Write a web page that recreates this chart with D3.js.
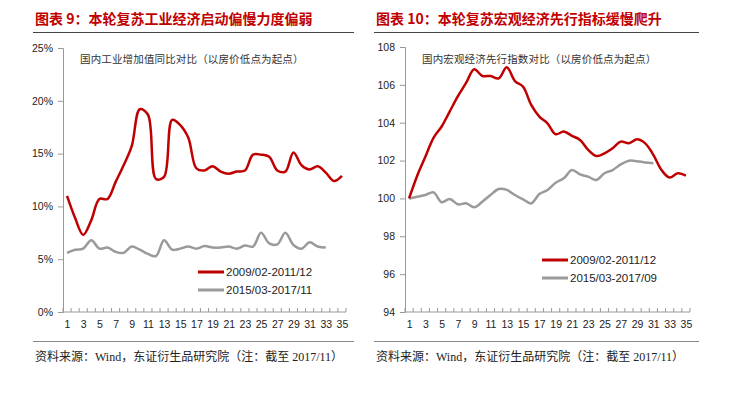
<!DOCTYPE html>
<html><head><meta charset="utf-8">
<script src="https://cdn.jsdelivr.net/npm/d3@7/dist/d3.min.js"></script>
<style>
html,body{margin:0;padding:0;background:#fff;}
svg{display:block;}
</style></head>
<body>
<svg id="c" width="733" height="397"></svg>
<script>
const categories = d3.range(1, 36);
const xTickLabels = d3.range(1, 36, 2);

// Left chart: industrial value added YoY (%)
const leftTitle = "图表 9：本轮复苏工业经济启动偏慢力度偏弱";
const leftNote = "国内工业增加值同比对比（以房价低点为起点）";
const leftSeriesNames = ["2009/02-2011/12", "2015/03-2017/11"];
const leftRed = [11.0, 8.9, 7.3, 8.7, 10.7, 10.7, 12.3, 13.9, 15.7, 19.2, 18.7, 12.6, 12.8, 18.2, 17.7, 16.5, 13.6, 13.4, 13.8, 13.3, 13.1, 13.3, 13.4, 14.9, 14.9, 14.7, 13.4, 13.3, 15.1, 13.9, 13.5, 13.8, 13.2, 12.4, 12.9];
const leftGray = [5.6, 5.9, 6.0, 6.8, 6.0, 6.1, 5.7, 5.6, 6.2, 5.9, 5.5, 5.3, 6.8, 5.9, 6.0, 6.2, 6.0, 6.25, 6.1, 6.1, 6.2, 6.0, 6.3, 6.2, 7.5, 6.5, 6.4, 7.5, 6.35, 6.0, 6.6, 6.2, 6.1];
const leftYTicks = [0, 5, 10, 15, 20, 25];

// Right chart: leading index
const rightTitle = "图表 10：本轮复苏宏观经济先行指标缓慢爬升";
const rightNote = "国内宏观经济先行指数对比（以房价低点为起点）";
const rightSeriesNames = ["2009/02-2011/12", "2015/03-2017/09"];
const rightRed = [100.0, 101.2, 102.2, 103.2, 103.8, 104.6, 105.4, 106.1, 106.82, 106.47, 106.47, 106.34, 106.93, 106.2, 105.9, 104.94, 104.32, 103.97, 103.39, 103.53, 103.31, 103.09, 102.56, 102.24, 102.38, 102.65, 103.0, 102.91, 103.12, 102.91, 102.3, 101.5, 101.1, 101.33, 101.2];
const rightGray = [100.0, 100.09, 100.18, 100.32, 99.8, 99.97, 99.69, 99.74, 99.53, 99.83, 100.18, 100.5, 100.45, 100.18, 99.95, 99.74, 100.23, 100.45, 100.83, 101.06, 101.5, 101.27, 101.15, 100.97, 101.33, 101.5, 101.8, 101.99, 101.97, 101.9, 101.86];
const rightYTicks = [94, 96, 98, 100, 102, 104, 106, 108];

const sourceText = "资料来源：Wind，东证衍生品研究院（注：截至 2017/11）";

const RED = "#c00000", GRAY = "#9a9a9a";
const svg = d3.select("#c");

function panel(o) {
  const g = svg.append("g");
  // title
  g.append("text").attr("x", o.left).attr("y", 24)
    .attr("fill", RED).attr("font-size", 14).attr("font-weight", "bold")
    .attr("font-family", "'Noto Sans CJK SC', sans-serif").text(o.title);
  g.append("line").attr("x1", o.left - 2).attr("x2", o.right).attr("y1", 32.5).attr("y2", 32.5)
    .attr("stroke", "#444").attr("stroke-width", 1.2);
  // bottom rule + source
  g.append("line").attr("x1", o.left - 2).attr("x2", o.right).attr("y1", 341.5).attr("y2", 341.5)
    .attr("stroke", "#888").attr("stroke-width", 1);
  g.append("text").attr("x", o.left).attr("y", 361)
    .attr("fill", "#222").attr("font-size", 12)
    .attr("font-family", "'Liberation Serif', 'Noto Sans CJK SC', serif").text(sourceText);

  const x = d3.scalePoint().domain(categories).range([o.ax0, o.ax1]).padding(0.5);
  const y = d3.scaleLinear().domain(o.yDomain).range([312, o.yTop]);
  const step = x.step();

  // y axis
  const ya = g.append("g").attr("transform", `translate(${o.ax0},0)`)
    .call(d3.axisLeft(y).tickValues(o.yTicks).tickSize(5).tickPadding(5).tickFormat(o.fmt));
  ya.select(".domain").attr("stroke", "#999");
  ya.selectAll(".tick line").attr("stroke", "#999");
  ya.selectAll("text").attr("font-size", 10.5).attr("fill", "#222")
    .attr("font-family", "'Liberation Sans', Arial, sans-serif");

  // x axis
  const xa = g.append("g").attr("transform", `translate(0,312)`)
    .call(d3.axisBottom(x).tickValues(xTickLabels).tickSize(0).tickPadding(9));
  xa.select(".domain").remove();
  xa.selectAll("text").attr("font-size", 10.5).attr("fill", "#222")
    .attr("font-family", "'Liberation Sans', Arial, sans-serif");
  g.append("line").attr("x1", o.ax0).attr("x2", o.ax1).attr("y1", 312).attr("y2", 312)
    .attr("stroke", "#999");
  g.append("g").selectAll("line").data(categories.concat([36])).join("line")
    .attr("x1", d => d === 36 ? x(35) + step / 2 : x(d) - step / 2)
    .attr("x2", d => d === 36 ? x(35) + step / 2 : x(d) - step / 2)
    .attr("y1", 312).attr("y2", 308).attr("stroke", "#999");

  // note
  g.append("text").attr("x", o.noteX).attr("y", 63)
    .attr("fill", "#333").attr("font-size", 10.5).attr("letter-spacing", 0.15)
    .attr("font-family", "'Noto Sans CJK SC', serif").text(o.note);

  const line = d3.line().x((d, i) => x(categories[i])).y(d => y(d)).curve(d3.curveCatmullRom.alpha(0.5));
  g.append("path").datum(o.gray).attr("d", line).attr("fill", "none")
    .attr("stroke", GRAY).attr("stroke-width", 2.5).attr("stroke-linejoin", "round");
  g.append("path").datum(o.red).attr("d", line).attr("fill", "none")
    .attr("stroke", RED).attr("stroke-width", 2.5).attr("stroke-linejoin", "round");

  // legend
  const items = [{c: RED, t: o.names[0]}, {c: GRAY, t: o.names[1]}];
  const lg = g.append("g");
  items.forEach((it, i) => {
    const yy = o.legY + i * 18;
    lg.append("line").attr("x1", o.legX).attr("x2", o.legX + 26).attr("y1", yy).attr("y2", yy)
      .attr("stroke", it.c).attr("stroke-width", 3);
    lg.append("text").attr("x", o.legX + 28).attr("y", yy).attr("dy", "0.35em")
      .attr("font-size", 11.5).attr("fill", "#222")
      .attr("font-family", "'Liberation Sans', Arial, sans-serif").text(it.t);
  });
}

panel({
  left: 35, right: 354, ax0: 63, ax1: 346, yDomain: [0, 25], yTop: 48,
  yTicks: leftYTicks, fmt: d => d + "%", title: leftTitle, note: leftNote, noteX: 80,
  red: leftRed, gray: leftGray, names: leftSeriesNames, legX: 198, legY: 272
});
panel({
  left: 376, right: 699, ax0: 405, ax1: 690, yDomain: [94, 108], yTop: 47,
  yTicks: rightYTicks, fmt: d => d, title: rightTitle, note: rightNote, noteX: 422,
  red: rightRed, gray: rightGray, names: rightSeriesNames, legX: 542, legY: 260
});
</script>
</body></html>
